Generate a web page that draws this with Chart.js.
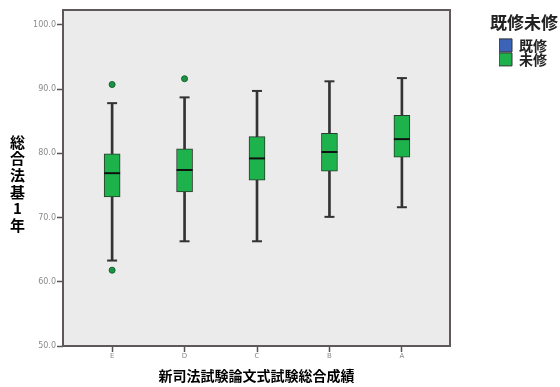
<!DOCTYPE html>
<html>
<head>
<meta charset="utf-8">
<script src="https://cdn.jsdelivr.net/npm/chart.js@4.4.1/dist/chart.umd.min.js"></script>
<style>
  body { margin: 0; background: #fff; }
  #wrap { width: 560px; height: 387px; }
</style>
</head>
<body>
<div id="wrap"><canvas id="chart"></canvas></div>
<script>
// Data
const categories = ["E", "D", "C", "B", "A"];
const whiskerLow = [63.3, 66.3, 66.3, 70.1, 71.6];
const q1 = [73.2, 74.0, 75.8, 77.2, 79.4];
const median = [76.9, 77.4, 79.2, 80.2, 82.2];
const q3 = [79.9, 80.7, 82.6, 83.1, 85.9];
const whiskerHigh = [87.8, 88.7, 89.7, 91.2, 91.7];
const outliers = [[90.7, 61.8], [91.6], [], [], []];
const yTicks = [50, 60, 70, 80, 90, 100];
const legendNames = ["既修", "未修"];
const legendTitle = "既修未修";

const green = "#1db24b";
const blue = "#3b63b8";
const jpFont = "'Noto Sans CJK JP', 'Noto Sans', sans-serif";

// Plot background and frame
const framePlugin = {
  id: "frame",
  beforeDraw(chart) {
    const { ctx, chartArea: a } = chart;
    ctx.save();
    ctx.fillStyle = "#ebebeb";
    ctx.fillRect(a.left, a.top, a.right - a.left, a.bottom - a.top);
    ctx.restore();
  },
  beforeDatasetsDraw(chart) {
    const { ctx, chartArea: a } = chart;
    ctx.save();
    ctx.strokeStyle = "#5e5858";
    ctx.lineWidth = 2;
    ctx.strokeRect(a.left, a.top, a.right - a.left, a.bottom - a.top);
    ctx.restore();
  }
};

// Upright stacked y axis title, and the legend heading (wider than the legend box)
const textPlugin = {
  id: "extraText",
  afterDraw(chart) {
    const { ctx } = chart;
    ctx.save();
    ctx.fillStyle = "#000";
    ctx.font = "bold 15px " + jpFont;
    ctx.textAlign = "center";
    ctx.textBaseline = "middle";
    [..."総合法基1年"].forEach((ch, i) => {
      ctx.fillText(ch, 17.5, 142 + i * 16.6);
    });
    const lg = chart.legend;
    ctx.fillStyle = "#222";
    ctx.font = "bold 17px " + jpFont;
    ctx.fillText(legendTitle, lg.left + 25, lg.top + 13);
    ctx.restore();
  }
};

const xs = categories.map((_, i) => i);

new Chart(document.getElementById("chart"), {
  data: {
    datasets: [
      {
        type: "scatter",
        label: "outliers",
        data: outliers.flatMap((list, i) => list.map(v => ({ x: i, y: v }))),
        pointStyle: "circle",
        radius: 3,
        backgroundColor: "#1a9444",
        borderColor: "#16622f",
        borderWidth: 1,
        order: 1
      },
      {
        type: "scatter",
        label: "median",
        data: xs.map(i => ({ x: i, y: median[i] })),
        pointStyle: "line",
        radius: 8,
        borderColor: "#111",
        borderWidth: 2,
        order: 2
      },
      {
        type: "bar",
        label: "box",
        data: xs.map(i => ({ x: i, y: [q1[i], q3[i]] })),
        backgroundColor: green,
        borderColor: "#2a3a2c",
        borderWidth: 1,
        borderSkipped: false,
        barThickness: 16,
        grouped: false,
        order: 3
      },
      {
        type: "scatter",
        label: "caps",
        data: xs.flatMap(i => [{ x: i, y: whiskerLow[i] }, { x: i, y: whiskerHigh[i] }]),
        pointStyle: "line",
        radius: 5,
        borderColor: "#333",
        borderWidth: 2,
        order: 4
      },
      {
        type: "bar",
        label: "whisker",
        data: xs.map(i => ({ x: i, y: [whiskerLow[i], whiskerHigh[i]] })),
        backgroundColor: "#333",
        barThickness: 2,
        grouped: false,
        order: 5
      }
    ]
  },
  options: {
    responsive: true,
    maintainAspectRatio: false,
    animation: false,
    layout: { padding: { top: 10, left: 0, right: 3, bottom: 0 } },
    plugins: {
      tooltip: { enabled: false },
      legend: {
        position: "right",
        align: "start",
        onClick: null,
        // heading drawn by textPlugin; this only reserves its height
        title: {
          display: true,
          text: "",
          color: "#222",
          font: { family: jpFont, size: 17, weight: "bold" },
          padding: { top: 4, bottom: 4 }
        },
        labels: {
          boxWidth: 13,
          boxHeight: 13,
          padding: 0,
          color: "#222",
          font: { family: jpFont, size: 14, weight: "bold" },
          generateLabels: () => legendNames.map((name, i) => ({
            text: name,
            fillStyle: i === 0 ? blue : green,
            strokeStyle: "#333",
            fontColor: "#222",
            lineWidth: 1,
            hidden: false
          }))
        }
      }
    },
    scales: {
      x: {
        type: "linear",
        position: "bottom",
        offset: false,
        min: -0.678,
        max: 4.664,
        afterBuildTicks: s => { s.ticks = xs.map(v => ({ value: v })); },
        afterFit: s => { s.height = 41; },
        grid: { offset: false, drawOnChartArea: false, tickLength: 6, tickColor: "#555", tickWidth: 1.5 },
        border: { display: false },
        ticks: {
          padding: 0,
          color: "#8a8a8a",
          font: { family: "DejaVu Sans", size: 7 },
          callback: v => categories[v]
        },
        title: {
          display: true,
          text: "新司法試験論文式試験総合成績",
          color: "#000",
          font: { family: jpFont, size: 14, weight: "bold" },
          padding: { top: 0, bottom: 3 }
        }
      },
      y: {
        min: 50,
        max: 102.3,
        afterBuildTicks: s => { s.ticks = yTicks.map(v => ({ value: v })); },
        afterFit: s => { s.width = 63; },
        grid: { drawOnChartArea: false, tickLength: 6, tickColor: "#555", tickWidth: 1.5 },
        border: { display: false },
        ticks: {
          padding: 1,
          color: "#8a8a8a",
          font: { family: "DejaVu Sans", size: 8 },
          callback: v => v.toFixed(1)
        }
      },
      y2: {
        position: "right",
        min: 50,
        max: 102.3,
        afterFit: s => { s.width = 49; },
        grid: { display: false },
        border: { display: false },
        ticks: { display: false }
      }
    }
  },
  plugins: [framePlugin, textPlugin]
});
</script>
</body>
</html>
